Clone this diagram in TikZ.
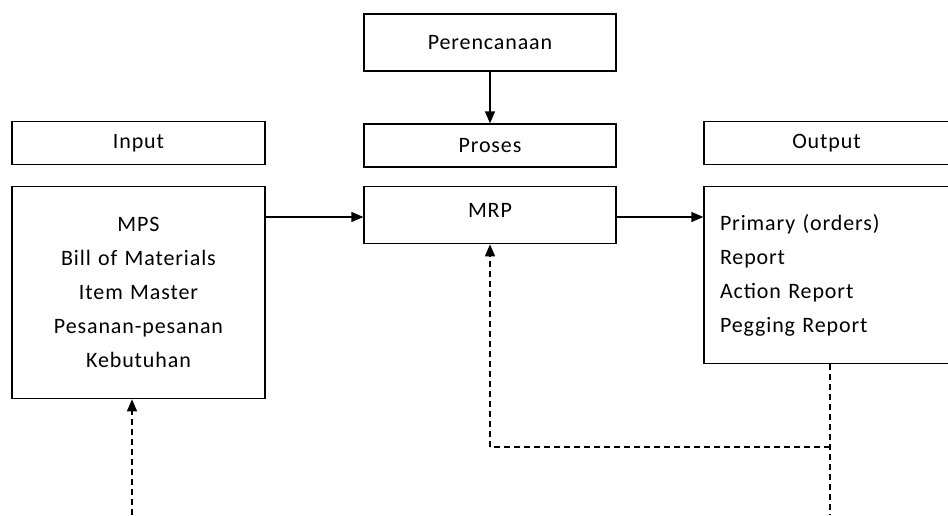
\documentclass[tikz,border=0pt]{standalone}
\usepackage{fontspec}
\setmainfont{Carlito}[LetterSpace=4]
\usetikzlibrary{arrows.meta,calc}
\begin{document}
\begin{tikzpicture}[x=1pt,y=-1pt,
  box/.style={draw=black,line width=1.3pt,inner sep=0pt,minimum height=#1},
  box/.default=43,
  txt/.style={font=\fontsize{22}{34}\selectfont},
  arr/.style={-{Triangle[length=12pt,width=10pt]},line width=1.3pt},
  dsh/.style={line width=1.2pt,dash pattern=on 6pt off 4pt}]
\useasboundingbox (0,0) rectangle (948,515);

% headers
\node[box=57,minimum width=252,txt] (plan) at (490,42.5) {Perencanaan};
\node[box,minimum width=252,txt] (proc) at (490,145.5) {Proses};
\node[box,minimum width=253,txt] (inp) at (138.5,143) {Input};
\node[box,minimum width=245,txt] (outp) at (826.5,143) {Output};

% content boxes
\node[box=57,minimum width=252,txt,anchor=north] (mrp) at (490,186) {};
\node[txt,anchor=center] (mrptxt) at (490,210) {MRP};
\node[box=212,text width=253,align=center,txt,anchor=north] (inbody) at (138.5,186)
  {MPS\\Bill of Materials\\Item Master\\Pesanan-pesanan\\Kebutuhan};
\node[box=177,text width=213,inner xsep=16pt,align=left,txt,anchor=north] (outbody) at (826.5,186)
  {Primary (orders)\\Report\\Action Report\\Pegging Report};

% flow arrows
\coordinate (flow) at (0,217);
\draw[arr] (plan.south) -- (plan.south |- proc.north);
\draw[arr] (inbody.east |- flow) -- (mrp.west |- flow);
\draw[arr] (mrp.east |- flow) -- (outbody.west |- flow);

% feedback lines
\coordinate (fbR) at (830,515);
\coordinate (fbL) at (490,447);
\coordinate (fbIn) at (132,515);
\draw[dsh] (outbody.south -| fbR) -- (fbR);
\draw[dsh] (fbR |- fbL) -- (fbL);
\draw[dsh,arr] (fbL) -- (mrp.south);
\draw[dsh,arr] (fbIn) -- (fbIn |- inbody.south);
\end{tikzpicture}
\end{document}
